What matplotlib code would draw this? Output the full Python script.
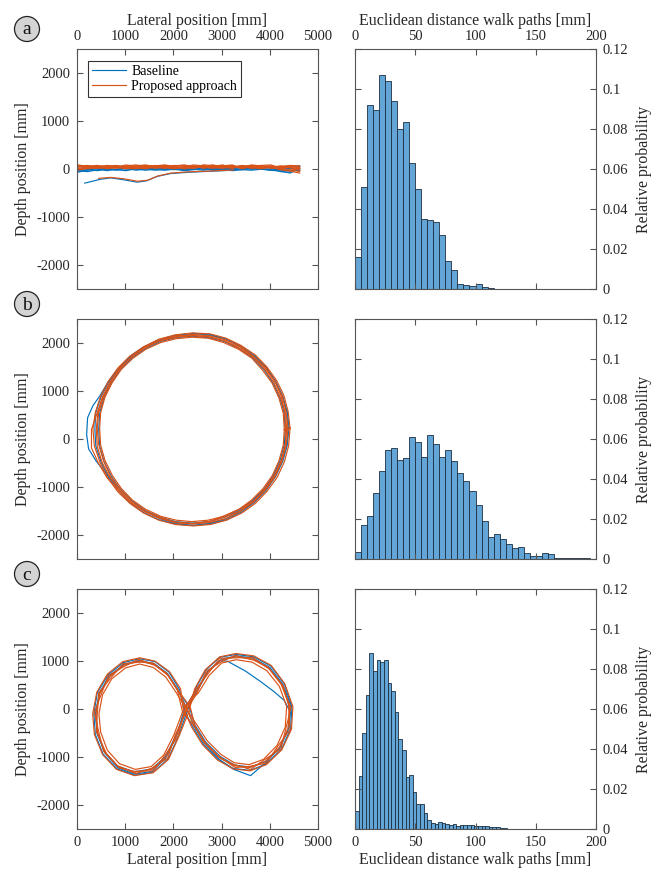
import matplotlib
matplotlib.use('Agg')
import matplotlib.pyplot as plt
import numpy as np
from matplotlib.patches import Circle

plt.rcParams['font.family'] = ['Liberation Serif', 'DejaVu Serif']
plt.rcParams['axes.unicode_minus'] = False

blue = '#0072BD'
orange = '#D95319'
spine_col = '#555555'
text_col = '#262626'

# ---- (a) straight walk: shared waypoint x, one y list per pass
a_x = [20, 220, 420, 620, 820, 1020, 1220, 1420, 1620, 1820, 2020, 2220,
       2420, 2620, 2820, 3020, 3220, 3420, 3620, 3820, 4020, 4220, 4420, 4620]
a_base_y = [
    [-30, -50, -10, 10, -20, 20, 0, 10, -20, 0, 20, -10, 0, 20, -10, 10, 0, -10, 20, 0, -20, -40, -80, 20],
    [20, 0, 30, 10, 40, 0, 20, 40, 10, -10, 30, 20, 40, 0, 20, 40, 10, 30, 0, 20, 40, 10, 60, 70],
    [-60, -20, 10, -30, 0, 20, -20, 0, 30, 10, -10, 20, 0, -20, 10, 30, -10, 0, 30, 10, -20, 0, 20, -30],
    [10, 50, 30, 50, 70, 40, 60, 30, 50, 70, 40, 10, 30, 50, 60, 20, 50, 40, 10, 40, 20, -50, -60, 60],
    [-40, -10, -30, 0, -10, -30, 10, -20, 0, -20, 0, -30, -10, 10, -20, 0, -30, -10, -20, 0, -10, -20, -30, -10],
]
a_prop_y = [
    [50, 70, 40, 80, 60, 30, 70, 90, 50, 40, 60, 80, 50, 30, 70, 60, 40, 80, 50, 30, 60, 20, -10, -50],
    [70, 30, 60, 20, 50, 90, 60, 40, 80, 60, 30, 50, 90, 70, 40, 50, 80, 30, 40, 70, 20, 50, 30, 20],
    [-20, 20, 50, 10, 40, 20, 10, 50, 30, 70, 40, 20, 60, 40, 20, 80, 60, 20, 70, 50, 40, 60, 80, 70],
    [90, 60, 80, 50, 30, 60, 40, 70, 20, 50, 80, 60, 30, 50, 90, 40, 20, 60, 80, 40, 50, -10, -40, -80],
    [30, 10, 30, 60, 80, 40, 20, 30, 60, 80, 50, 30, 20, 60, 50, 30, 50, 70, 20, 60, 70, 40, 60, 30],
    [60, 80, 50, 40, 20, 70, 90, 60, 40, 20, 70, 90, 60, 80, 30, 20, 60, 40, 90, 70, 30, 0, -20, 10],
    [10, 40, 20, 30, 60, 50, 30, 10, 40, 30, 10, 40, 70, 20, 60, 90, 30, 50, 30, 10, 40, 70, 40, -20],
    [80, 50, 60, 70, 40, 10, 50, 80, 70, 90, 60, 10, 40, 90, 80, 70, 90, 10, 60, 80, 90, 30, 50, 50],
]
a_start_base_x = [160, 480, 700, 970, 1250, 1450, 1660, 1940, 2280, 2700, 3250]
a_start_base_y = [-290, -210, -180, -220, -270, -240, -150, -90, -65, -45, -20]
a_start_prop_x = [450, 700, 980, 1250, 1460, 1680, 1950, 2300, 2700, 3250]
a_start_prop_y = [-190, -170, -200, -250, -230, -140, -80, -55, -40, -15]

# ---- (b) circle walk laps
b_base_x = [
    [4380, 4350, 4270, 4120, 3930, 3680, 3390, 3080, 2750, 2390, 2030, 1700, 1380, 1100, 860, 660, 470, 330, 220, 200, 240, 400, 640, 900, 1150, 1420, 1730, 2060, 2400, 2740, 3070, 3380, 3660, 3900, 4100, 4250, 4350, 4380],
    [4320, 4300, 4210, 4070, 3880, 3640, 3370, 3060, 2730, 2390, 2050, 1730, 1420, 1140, 900, 710, 560, 470, 450, 470, 560, 710, 900, 1140, 1420, 1730, 2050, 2390, 2730, 3060, 3370, 3640, 3880, 4070, 4210, 4300, 4320],
    [4400, 4360, 4250, 4100, 3910, 3660, 3400, 3090, 2760, 2400, 2030, 1690, 1370, 1100, 870, 660, 500, 390, 370, 390, 500, 660, 870, 1100, 1380, 1700, 2050, 2420, 2780, 3110, 3410, 3680, 3920, 4120, 4270, 4360, 4400],
]
b_base_y = [
    [220, 570, 900, 1210, 1500, 1750, 1950, 2100, 2190, 2210, 2160, 2070, 1920, 1720, 1480, 1220, 900, 700, 450, 100, -200, -460, -760, -1040, -1290, -1500, -1660, -1760, -1800, -1760, -1670, -1510, -1310, -1060, -770, -460, -130, 220],
    [190, 530, 860, 1170, 1450, 1700, 1890, 2040, 2120, 2150, 2120, 2040, 1890, 1700, 1460, 1180, 870, 540, 200, -140, -460, -770, -1050, -1290, -1490, -1630, -1720, -1750, -1720, -1630, -1480, -1280, -1040, -760, -450, -120, 190],
    [250, 590, 920, 1220, 1500, 1740, 1930, 2090, 2170, 2210, 2170, 2070, 1920, 1730, 1490, 1200, 890, 560, 220, -140, -480, -800, -1080, -1330, -1530, -1680, -1770, -1800, -1760, -1680, -1520, -1320, -1070, -780, -460, -130, 250],
]
b_prop_x = [
    [4380, 4340, 4260, 4100, 3920, 3660, 3390, 3070, 2750, 2400, 2040, 1700, 1400, 1110, 870, 680, 520, 430, 400, 420, 520, 680, 880, 1120, 1400, 1710, 2050, 2400, 2740, 3080, 3390, 3670, 3910, 4110, 4250, 4340, 4380],
    [4300, 4280, 4190, 4050, 3850, 3630, 3350, 3040, 2720, 2380, 2060, 1740, 1430, 1160, 920, 730, 580, 490, 470, 490, 580, 730, 920, 1150, 1420, 1740, 2060, 2380, 2720, 3040, 3350, 3620, 3860, 4050, 4190, 4280, 4300],
    [4420, 4380, 4290, 4140, 3940, 3700, 3400, 3090, 2760, 2410, 2040, 1700, 1380, 1090, 850, 650, 490, 380, 330, 360, 480, 640, 850, 1100, 1380, 1700, 2040, 2410, 2770, 3100, 3420, 3700, 3940, 4150, 4300, 4390, 4420],
    [4350, 4330, 4220, 4080, 3880, 3640, 3380, 3060, 2740, 2390, 2050, 1720, 1420, 1130, 880, 700, 560, 450, 420, 450, 550, 700, 900, 1140, 1420, 1720, 2050, 2390, 2730, 3060, 3380, 3650, 3890, 4090, 4230, 4320, 4350],
    [4330, 4310, 4240, 4110, 3900, 3660, 3360, 3050, 2730, 2400, 2060, 1710, 1400, 1130, 900, 710, 540, 420, 300, 300, 440, 620, 870, 1110, 1410, 1730, 2050, 2400, 2750, 3100, 3450, 3700, 3920, 4100, 4240, 4330, 4330],
]
b_prop_y = [
    [210, 560, 900, 1210, 1490, 1740, 1940, 2080, 2160, 2190, 2140, 2050, 1900, 1700, 1460, 1190, 870, 540, 200, -150, -480, -790, -1070, -1320, -1510, -1650, -1740, -1770, -1740, -1660, -1510, -1310, -1060, -780, -470, -130, 210],
    [200, 540, 860, 1170, 1440, 1690, 1880, 2020, 2110, 2130, 2100, 2020, 1880, 1690, 1460, 1180, 880, 550, 220, -120, -440, -750, -1030, -1270, -1460, -1610, -1690, -1720, -1690, -1610, -1470, -1270, -1030, -760, -450, -120, 200],
    [230, 580, 920, 1230, 1510, 1760, 1960, 2110, 2200, 2220, 2180, 2090, 1930, 1730, 1490, 1210, 900, 560, 220, -140, -490, -810, -1100, -1340, -1540, -1690, -1780, -1810, -1780, -1690, -1540, -1340, -1090, -800, -480, -140, 230],
    [180, 530, 870, 1190, 1470, 1730, 1920, 2050, 2140, 2170, 2160, 2070, 1930, 1710, 1490, 1200, 900, 560, 230, -110, -450, -780, -1050, -1300, -1500, -1630, -1730, -1760, -1720, -1630, -1500, -1300, -1040, -760, -460, -120, 180],
    [190, 560, 890, 1210, 1480, 1710, 1900, 2060, 2140, 2160, 2130, 2050, 1920, 1720, 1480, 1200, 880, 560, 200, -180, -490, -800, -1080, -1320, -1510, -1650, -1740, -1760, -1720, -1580, -1420, -1260, -1030, -760, -450, -110, 190],
]

# ---- (c) figure-eight walk laps
c_base_x = [
    [2240, 2480, 2700, 2960, 3120, 3500, 3800, 4080, 4300, 4420, 4380, 4200, 3900, 3600, 3250, 2950, 2650, 2430, 2300, 2100, 1880, 1600, 1300, 980, 680, 470, 380, 420, 580, 850, 1200, 1560, 1850, 2060, 2240],
    [2310, 2450, 2670, 2960, 3300, 3670, 4020, 4300, 4460, 4430, 4240, 3920, 3590, 3240, 2920, 2620, 2400, 2220, 2130, 1910, 1620, 1300, 960, 650, 420, 350, 380, 540, 830, 1200, 1580, 1890, 2100, 2310],
    [2260, 2500, 2720, 3000, 3310, 3660, 4000, 4270, 4440, 4400, 4220, 3920, 3600, 3270, 2970, 2670, 2450, 2330, 2090, 1870, 1590, 1290, 970, 670, 460, 390, 420, 570, 840, 1190, 1550, 1840, 2050, 2260],
]
c_base_y = [
    [30, 390, 770, 1010, 1000, 790, 580, 370, 180, -50, -420, -820, -1130, -1390, -1260, -1050, -720, -360, -40, 390, 740, 950, 1010, 930, 690, 330, -100, -520, -920, -1230, -1360, -1300, -1010, -570, 30],
    [20, 410, 810, 1080, 1140, 1090, 900, 530, 40, -420, -840, -1150, -1280, -1240, -1050, -730, -370, -20, 400, 770, 990, 1050, 970, 720, 340, -100, -530, -940, -1250, -1380, -1320, -1040, -580, 20],
    [-50, 390, 780, 1040, 1110, 1060, 870, 520, 60, -390, -790, -1090, -1210, -1170, -990, -690, -340, 40, 390, 730, 940, 1010, 930, 690, 330, -90, -490, -890, -1190, -1310, -1250, -990, -550, -50],
]
c_prop_x = [
    [2270, 2480, 2700, 2980, 3300, 3650, 3980, 4250, 4410, 4380, 4200, 3900, 3580, 3250, 2950, 2650, 2430, 2250, 2100, 1880, 1600, 1300, 980, 680, 470, 395, 430, 580, 850, 1200, 1560, 1850, 2060, 2270],
    [2320, 2440, 2660, 2960, 3300, 3670, 4030, 4310, 4480, 4450, 4250, 3930, 3590, 3240, 2910, 2600, 2380, 2200, 2150, 1920, 1620, 1300, 950, 630, 410, 325, 360, 530, 820, 1190, 1580, 1900, 2110, 2320],
    [2230, 2520, 2740, 3000, 3300, 3630, 3940, 4200, 4350, 4320, 4150, 3870, 3570, 3260, 2990, 2700, 2480, 2290, 2060, 1840, 1580, 1300, 1010, 720, 530, 455, 490, 630, 880, 1210, 1540, 1800, 2010, 2230],
    [2250, 2460, 2720, 2960, 3310, 3640, 4000, 4230, 4440, 4340, 4230, 3870, 3600, 3230, 2970, 2620, 2450, 2350, 2120, 1860, 1620, 1280, 1000, 650, 500, 360, 460, 550, 880, 1180, 1590, 1820, 2090, 2250],
    [2280, 2500, 2680, 3000, 3280, 3670, 3960, 4280, 4390, 4420, 4170, 3930, 3560, 3280, 2920, 2680, 2410, 2190, 2080, 1900, 1580, 1330, 960, 710, 450, 420, 400, 610, 830, 1220, 1540, 1880, 2040, 2280],
]
c_prop_y = [
    [0, 380, 760, 1020, 1090, 1040, 850, 500, 50, -400, -800, -1100, -1220, -1180, -1000, -700, -350, 60, 380, 720, 930, 1000, 920, 680, 320, -100, -500, -900, -1200, -1320, -1260, -1000, -560, 0],
    [-60, 420, 820, 1090, 1160, 1110, 910, 530, 50, -420, -850, -1160, -1290, -1250, -1060, -740, -380, 30, 420, 780, 1000, 1070, 990, 730, 350, -100, -530, -950, -1260, -1390, -1330, -1050, -580, -60],
    [50, 340, 700, 960, 1030, 980, 800, 470, 50, -380, -760, -1050, -1160, -1120, -950, -660, -320, -30, 340, 670, 870, 940, 860, 630, 300, -100, -480, -860, -1140, -1260, -1200, -960, -540, 50],
    [20, 400, 740, 1060, 1070, 1080, 830, 530, 30, -380, -830, -1070, -1260, -1150, -1030, -680, -370, 40, 360, 750, 910, 1040, 900, 700, 300, -70, -520, -880, -1230, -1300, -1290, -970, -580, 20],
    [-20, 360, 790, 990, 1120, 1020, 880, 480, 80, -430, -770, -1130, -1200, -1220, -980, -730, -330, -60, 400, 690, 960, 980, 950, 660, 340, -130, -470, -930, -1180, -1350, -1240, -1030, -540, -20],
]

# ---- histograms of euclidean distance (relative probability per bin)
hist_a_width = 5
hist_a = [0.016, 0.051, 0.092, 0.0895, 0.107, 0.104, 0.094, 0.080, 0.0835, 0.063, 0.050,
          0.035, 0.0345, 0.0335, 0.027, 0.014, 0.0097, 0.0027, 0.002, 0.0015, 0.0023, 0.0008, 0.0003]
hist_b_width = 5
hist_b = [0.0033, 0.017, 0.0215, 0.033, 0.0443, 0.0548, 0.0555, 0.0495, 0.0508, 0.061, 0.0585,
          0.0513, 0.0622, 0.0575, 0.0513, 0.0548, 0.0492, 0.043, 0.039, 0.0343, 0.027, 0.019,
          0.011, 0.0127, 0.0098, 0.0075, 0.0053, 0.0058, 0.003, 0.0017, 0.0013, 0.0028, 0.0023,
          0.0005, 0.0005, 0.0007, 0.0005, 0.0007, 0.0007]
hist_c_width = 3
hist_c = [0.0087, 0.0263, 0.048, 0.0672, 0.088, 0.079, 0.0847, 0.0835, 0.0847, 0.073, 0.0688,
          0.0583, 0.045, 0.0397, 0.0258, 0.0268, 0.0185, 0.0122, 0.0122, 0.0077, 0.0043, 0.003,
          0.0022, 0.0033, 0.0027, 0.0022, 0.0017, 0.0025, 0.0012, 0.002, 0.0017, 0.002, 0.0018,
          0.0013, 0.0015, 0.0013, 0.0013, 0.001, 0.0007, 0.0008, 0.0003, 0.0005]

lat_ticks = [0, 1000, 2000, 3000, 4000, 5000]
depth_ticks = [-2000, -1000, 0, 1000, 2000]
dist_ticks = [0, 50, 100, 150, 200]
prob_ticks = [0, 0.02, 0.04, 0.06, 0.08, 0.1, 0.12]
prob_labels = ['0', '0.02', '0.04', '0.06', '0.08', '0.1', '0.12']


def style_axes(ax):
    ax.tick_params(direction='in', length=4, width=0.8, color=spine_col, labelcolor=text_col,
                   labelsize=10.5, top=True, right=True, bottom=True, left=True, pad=5)
    for s in ax.spines.values():
        s.set_color(spine_col)
        s.set_linewidth(0.8)


fig = plt.figure(figsize=(6.61, 8.72), dpi=100)
W, H = 661.0, 872.0
rows_top = [49.5, 319.5, 589.3]
ax_h = 239.5
ax_w = 241.0
lw = 0.85

for i, top in enumerate(rows_top):
    axl = fig.add_axes([77 / W, 1 - (top + ax_h) / H, ax_w / W, ax_h / H])
    axr = fig.add_axes([355 / W, 1 - (top + ax_h) / H, ax_w / W, ax_h / H])
    style_axes(axl)
    style_axes(axr)

    if i == 0:
        for k, yy in enumerate(a_base_y):
            axl.plot(a_x, yy, color=blue, lw=lw, label='Baseline' if k == 0 else None)
        axl.plot(a_start_base_x, a_start_base_y, color=blue, lw=lw)
        for k, yy in enumerate(a_prop_y):
            axl.plot(a_x, yy, color=orange, lw=lw, label='Proposed approach' if k == 0 else None)
        axl.plot(a_start_prop_x, a_start_prop_y, color=orange, lw=lw)
        leg = axl.legend(loc='upper left', fontsize=10, frameon=True, fancybox=False,
                         edgecolor='#333333', framealpha=1, handlelength=2.4, borderaxespad=0.8,
                         borderpad=0.3, labelspacing=0.15, handletextpad=0.4)
        leg.get_frame().set_linewidth(0.8)
        hist, hw = hist_a, hist_a_width
    elif i == 1:
        for xx, yy in zip(b_base_x, b_base_y):
            axl.plot(xx, yy, color=blue, lw=lw)
        for xx, yy in zip(b_prop_x, b_prop_y):
            axl.plot(xx, yy, color=orange, lw=lw)
        hist, hw = hist_b, hist_b_width
    else:
        for xx, yy in zip(c_base_x, c_base_y):
            axl.plot(xx, yy, color=blue, lw=lw)
        for xx, yy in zip(c_prop_x, c_prop_y):
            axl.plot(xx, yy, color=orange, lw=lw)
        hist, hw = hist_c, hist_c_width

    left_edges = np.arange(len(hist)) * hw
    axr.bar(left_edges, hist, width=hw, align='edge', color='#62a5d6',
            edgecolor='#1c2f40', linewidth=0.6)

    axl.set_xlim(0, 5000)
    axl.set_ylim(-2500, 2500)
    axl.set_xticks(lat_ticks)
    axl.set_yticks(depth_ticks)
    axl.set_yticklabels([str(t) for t in depth_ticks])
    axl.set_ylabel('Depth position [mm]', fontsize=11.5, color=text_col, labelpad=4)

    axr.set_xlim(0, 200)
    axr.set_ylim(0, 0.12)
    axr.set_xticks(dist_ticks)
    axr.set_yticks(prob_ticks)
    axr.set_yticklabels(prob_labels)
    axr.yaxis.set_label_position('right')
    axr.tick_params(labelleft=False, labelright=True)
    axr.set_ylabel('Relative probability', fontsize=11.5, color=text_col, labelpad=5)

    if i == 0:
        for ax in (axl, axr):
            ax.xaxis.set_label_position('top')
            ax.tick_params(labeltop=True, labelbottom=False)
        axl.set_xlabel('Lateral position [mm]', fontsize=11.5, color=text_col, labelpad=3)
        axr.set_xlabel('Euclidean distance walk paths [mm]', fontsize=11.5, color=text_col, labelpad=3)
    elif i == 1:
        for ax in (axl, axr):
            ax.tick_params(labelbottom=False)
    else:
        axl.set_xlabel('Lateral position [mm]', fontsize=11.5, color=text_col, labelpad=2)
        axr.set_xlabel('Euclidean distance walk paths [mm]', fontsize=11.5, color=text_col, labelpad=2)

# panel letters in grey circles
for letter, cy in zip(['a', 'b', 'c'], [29, 304, 574]):
    cx = 27
    circ = Circle((cx / 100.0, (H - cy) / 100.0), 0.125, transform=fig.dpi_scale_trans,
                  facecolor='#d4d4d4', edgecolor='#222222', linewidth=0.9)
    fig.patches.append(circ)
    fig.text(cx / W, 1 - (cy + 1) / H, letter, ha='center', va='center', fontsize=14, color='#111111')

fig.savefig('out.png', dpi=100)
